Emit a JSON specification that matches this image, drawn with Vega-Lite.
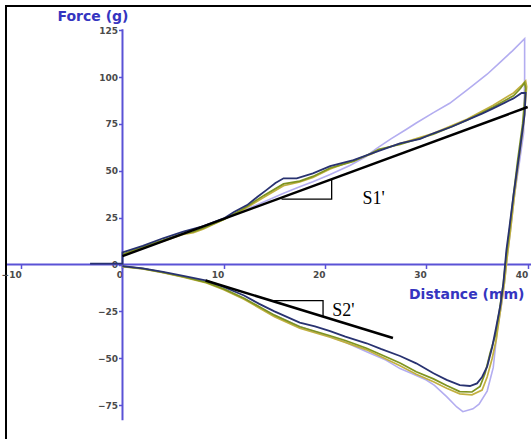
{
  "$schema": "https://vega.github.io/schema/vega-lite/v6.json",
  "autosize": {"type": "none"},
  "width": 540,
  "height": 440,
  "padding": {"left": 6, "top": 6, "right": 0, "bottom": 0},
  "background": "white",
  "config": {
    "view": {"stroke": "black", "strokeWidth": 2},
    "axis": {
      "grid": false,
      "domain": false,
      "tickColor": "#5a52d6",
      "tickWidth": 1.5,
      "tickSize": 4,
      "labelFont": "DejaVu Sans",
      "labelFontWeight": "bold",
      "labelFontSize": 9,
      "labelColor": "#4a4a4a",
      "titleFont": "DejaVu Sans",
      "titleFontWeight": "bold",
      "titleFontSize": 14,
      "titleColor": "#3535c0"
    }
  },
  "datasets": {
    "axes": [
      {"x": 0, "y": -83, "x2": 0, "y2": 125.5},
      {"x": -11.4, "y": 0, "x2": 41.8, "y2": 0}
    ],
    "lav": [
      {"i":1,"x":0,"y":5},{"i":2,"x":2,"y":8.5},{"i":3,"x":4,"y":12.5},{"i":4,"x":6,"y":16.5},{"i":5,"x":8,"y":20.5},{"i":6,"x":10,"y":24.5},{"i":7,"x":12,"y":29},{"i":8,"x":14,"y":33.5},{"i":9,"x":15.9,"y":38},{"i":10,"x":17.5,"y":41.5},{"i":11,"x":18.8,"y":44.2},{"i":12,"x":20.5,"y":48},{"i":13,"x":22.5,"y":53},{"i":14,"x":24,"y":57.5},{"i":15,"x":25.1,"y":62},{"i":16,"x":26.5,"y":67},{"i":17,"x":28,"y":72},{"i":18,"x":29,"y":75.5},{"i":19,"x":30.7,"y":81},{"i":20,"x":32.3,"y":86},{"i":21,"x":34,"y":93},{"i":22,"x":34.6,"y":95.5},{"i":23,"x":36,"y":101.5},{"i":24,"x":37.3,"y":108},{"i":25,"x":38.5,"y":114},{"i":26,"x":39.7,"y":120.5},{"i":27,"x":39.7,"y":100},{"i":28,"x":39.6,"y":70},{"i":29,"x":39.2,"y":55},{"i":30,"x":38.7,"y":37},{"i":31,"x":38.3,"y":18},{"i":32,"x":38,"y":5},{"i":33,"x":37.7,"y":-10},{"i":34,"x":37.4,"y":-22},{"i":35,"x":37,"y":-35},{"i":36,"x":36.6,"y":-55},{"i":37,"x":36,"y":-67.5},{"i":38,"x":35.2,"y":-74.5},{"i":39,"x":34.6,"y":-77},{"i":40,"x":33.6,"y":-78.5},{"i":41,"x":33,"y":-76},{"i":42,"x":32,"y":-70.5},{"i":43,"x":30.8,"y":-64.5},{"i":44,"x":30,"y":-61.6},{"i":45,"x":28.5,"y":-58},{"i":46,"x":27.4,"y":-55.5},{"i":47,"x":26,"y":-51},{"i":48,"x":24.1,"y":-46.5},{"i":49,"x":22,"y":-41.5},{"i":50,"x":20.5,"y":-38.5},{"i":51,"x":17.5,"y":-33},{"i":52,"x":15,"y":-27},{"i":53,"x":12,"y":-18.3},{"i":54,"x":10,"y":-13.2},{"i":55,"x":8.3,"y":-9.5},{"i":56,"x":6,"y":-6.5},{"i":57,"x":4,"y":-4.2},{"i":58,"x":2,"y":-2.2},{"i":59,"x":0,"y":-1}
    ],
    "khaki": [
      {"i":1,"x":0,"y":5},{"i":2,"x":2,"y":9},{"i":3,"x":4,"y":12.5},{"i":4,"x":6,"y":16},{"i":5,"x":7,"y":17},{"i":6,"x":8,"y":19},{"i":7,"x":10,"y":24},{"i":8,"x":12,"y":29.5},{"i":9,"x":14,"y":36},{"i":10,"x":15.9,"y":42},{"i":11,"x":17.5,"y":44},{"i":12,"x":18.8,"y":46.5},{"i":13,"x":20.5,"y":51},{"i":14,"x":22.8,"y":55.5},{"i":15,"x":24.6,"y":59},{"i":16,"x":25.3,"y":61},{"i":17,"x":27.4,"y":64.5},{"i":18,"x":30.7,"y":70},{"i":19,"x":34,"y":77.5},{"i":20,"x":36.6,"y":85},{"i":21,"x":38.6,"y":91.5},{"i":22,"x":39.4,"y":95.5},{"i":23,"x":39.8,"y":98},{"i":24,"x":39.9,"y":95},{"i":25,"x":39.6,"y":75},{"i":26,"x":39.1,"y":55},{"i":27,"x":38.7,"y":37},{"i":28,"x":38.3,"y":18},{"i":29,"x":38,"y":5},{"i":30,"x":37.7,"y":-10},{"i":31,"x":37.3,"y":-25},{"i":32,"x":36.9,"y":-40},{"i":33,"x":36.5,"y":-50},{"i":34,"x":36,"y":-60},{"i":35,"x":35.5,"y":-67},{"i":36,"x":34.5,"y":-69.5},{"i":37,"x":33.3,"y":-69},{"i":38,"x":32,"y":-66},{"i":39,"x":30.7,"y":-62.5},{"i":40,"x":29,"y":-58.5},{"i":41,"x":27.4,"y":-54},{"i":42,"x":24.1,"y":-45.5},{"i":43,"x":22,"y":-41.5},{"i":44,"x":20.5,"y":-38.8},{"i":45,"x":17.5,"y":-34},{"i":46,"x":15,"y":-27.8},{"i":47,"x":12,"y":-18.5},{"i":48,"x":10,"y":-13.5},{"i":49,"x":8.3,"y":-9.8},{"i":50,"x":6,"y":-6.7},{"i":51,"x":4,"y":-4.3},{"i":52,"x":2,"y":-2.3},{"i":53,"x":0,"y":-1.1}
    ],
    "olive": [
      {"i":1,"x":0,"y":5.5},{"i":2,"x":2,"y":9.5},{"i":3,"x":4,"y":13},{"i":4,"x":6,"y":16.5},{"i":5,"x":7,"y":17.5},{"i":6,"x":8,"y":19.5},{"i":7,"x":10,"y":24},{"i":8,"x":12,"y":30},{"i":9,"x":14,"y":37},{"i":10,"x":15.9,"y":43},{"i":11,"x":17.5,"y":44.5},{"i":12,"x":18.8,"y":47},{"i":13,"x":20.5,"y":51.5},{"i":14,"x":22.8,"y":55},{"i":15,"x":24.6,"y":59.5},{"i":16,"x":25.3,"y":61.5},{"i":17,"x":27.4,"y":64},{"i":18,"x":30.7,"y":69.5},{"i":19,"x":34,"y":77},{"i":20,"x":36.6,"y":84},{"i":21,"x":38.6,"y":90},{"i":22,"x":39.3,"y":94},{"i":23,"x":39.7,"y":97},{"i":24,"x":39.8,"y":94},{"i":25,"x":39.5,"y":75},{"i":26,"x":39,"y":55},{"i":27,"x":38.6,"y":37},{"i":28,"x":38.2,"y":18},{"i":29,"x":37.9,"y":5},{"i":30,"x":37.6,"y":-10},{"i":31,"x":37.2,"y":-25},{"i":32,"x":36.8,"y":-38},{"i":33,"x":36.3,"y":-47},{"i":34,"x":35.8,"y":-58},{"i":35,"x":35.3,"y":-65},{"i":36,"x":34.5,"y":-68},{"i":37,"x":33.3,"y":-67.8},{"i":38,"x":32,"y":-64.5},{"i":39,"x":30.7,"y":-61},{"i":40,"x":29,"y":-57.2},{"i":41,"x":27.4,"y":-52.5},{"i":42,"x":24.1,"y":-44.7},{"i":43,"x":22,"y":-40.5},{"i":44,"x":20.5,"y":-38},{"i":45,"x":17.5,"y":-33.2},{"i":46,"x":15,"y":-27},{"i":47,"x":12,"y":-18},{"i":48,"x":10,"y":-13},{"i":49,"x":8.3,"y":-9.5},{"i":50,"x":6,"y":-6.5},{"i":51,"x":4,"y":-4.2},{"i":52,"x":2,"y":-2.2},{"i":53,"x":0,"y":-1}
    ],
    "navy": [
      {"i":1,"x":-3.2,"y":0.5},{"i":2,"x":0,"y":0.5},{"i":3,"x":0,"y":6.5},{"i":4,"x":2,"y":10},{"i":5,"x":4,"y":14},{"i":6,"x":6,"y":17.5},{"i":7,"x":8,"y":20.5},{"i":8,"x":10,"y":24.6},{"i":9,"x":11,"y":28},{"i":10,"x":12.3,"y":31.7},{"i":11,"x":13.3,"y":36},{"i":12,"x":14.2,"y":39.7},{"i":13,"x":15.1,"y":43.5},{"i":14,"x":15.9,"y":46},{"i":15,"x":17.2,"y":46},{"i":16,"x":18.8,"y":48.6},{"i":17,"x":20.5,"y":52.5},{"i":18,"x":22.8,"y":55.7},{"i":19,"x":25.1,"y":60.2},{"i":20,"x":27.4,"y":64.6},{"i":21,"x":29.4,"y":67},{"i":22,"x":30.7,"y":70},{"i":23,"x":32.5,"y":73.5},{"i":24,"x":34,"y":77},{"i":25,"x":35.5,"y":80.5},{"i":26,"x":36.6,"y":83.3},{"i":27,"x":37.8,"y":86.5},{"i":28,"x":38.6,"y":88.6},{"i":29,"x":39.4,"y":91.5},{"i":30,"x":39.8,"y":91.5},{"i":31,"x":39.7,"y":80},{"i":32,"x":39.2,"y":60},{"i":33,"x":38.6,"y":37},{"i":34,"x":38.2,"y":20},{"i":35,"x":37.9,"y":7.7},{"i":36,"x":37.6,"y":-10},{"i":37,"x":37.3,"y":-22},{"i":38,"x":36.9,"y":-33.2},{"i":39,"x":36.5,"y":-44},{"i":40,"x":36,"y":-54.5},{"i":41,"x":35.5,"y":-60},{"i":42,"x":35,"y":-63.4},{"i":43,"x":34.3,"y":-64.8},{"i":44,"x":33.3,"y":-64.3},{"i":45,"x":32,"y":-61.5},{"i":46,"x":30.7,"y":-58},{"i":47,"x":29,"y":-52.7},{"i":48,"x":27.4,"y":-48.8},{"i":49,"x":25.5,"y":-45},{"i":50,"x":24.1,"y":-42},{"i":51,"x":22,"y":-38.5},{"i":52,"x":20.5,"y":-35.5},{"i":53,"x":19,"y":-33},{"i":54,"x":17.5,"y":-31},{"i":55,"x":15,"y":-25},{"i":56,"x":13.5,"y":-21},{"i":57,"x":12,"y":-16.5},{"i":58,"x":10,"y":-12},{"i":59,"x":8.3,"y":-8.6},{"i":60,"x":6,"y":-6},{"i":61,"x":4,"y":-3.9},{"i":62,"x":2,"y":-2},{"i":63,"x":0,"y":-0.8}
    ],
    "slopes": [
      {"seg":"S1","i":0,"x":0,"y":4.5},{"seg":"S1","i":1,"x":40,"y":84},
      {"seg":"S2","i":0,"x":8.2,"y":-8.5},{"seg":"S2","i":1,"x":26.7,"y":-39.2}
    ],
    "triangles": [
      {"seg":"T1","i":0,"x":15.7,"y":34.9},{"seg":"T1","i":1,"x":20.65,"y":34.9},{"seg":"T1","i":2,"x":20.65,"y":45.5},
      {"seg":"T2","i":0,"x":14.7,"y":-19.3},{"seg":"T2","i":1,"x":19.8,"y":-19.3},{"seg":"T2","i":2,"x":19.8,"y":-27.8}
    ],
    "labels": [
      {"text":"S1'","x":23.7,"y":32.3},
      {"text":"S2'","x":20.7,"y":-27.5}
    ]
  },
  "layer": [
    {
      "data": {"name": "axes"},
      "mark": {"type": "rule", "color": "#5a52d6", "strokeWidth": 2},
      "encoding": {
        "x": {"field": "x", "type": "quantitative", "scale": {"domain": [-11.5, 41.81], "nice": false, "zero": false},
          "axis": {"orient": "bottom", "offset": -181.5, "values": [-10, 0, 10, 20, 30, 40], "labelAlign": "right", "labelPadding": 2,
            "title": "Distance (mm)", "titleX": 518, "titleY": 33.5, "titleAlign": "right", "titleBaseline": "alphabetic", "titleAngle": 0}},
        "y": {"field": "y", "type": "quantitative", "scale": {"domain": [-96.8, 137.9], "nice": false, "zero": false},
          "axis": {"orient": "left", "offset": -116.5, "values": [-75, -50, -25, 0, 25, 50, 75, 100, 125], "labelPadding": 1,
            "title": "Force (g)", "titleX": -30, "titleY": 14, "titleAlign": "center", "titleBaseline": "alphabetic", "titleAngle": 0}},
        "x2": {"field": "x2"},
        "y2": {"field": "y2"}
      }
    },
    {
      "data": {"name": "lav"},
      "mark": {"type": "line", "color": "#b3adf0", "strokeWidth": 1.6},
      "encoding": {"x": {"field": "x", "type": "quantitative"}, "y": {"field": "y", "type": "quantitative"}, "order": {"field": "i"}}
    },
    {
      "data": {"name": "khaki"},
      "mark": {"type": "line", "color": "#c2b040", "strokeWidth": 1.7},
      "encoding": {"x": {"field": "x", "type": "quantitative"}, "y": {"field": "y", "type": "quantitative"}, "order": {"field": "i"}}
    },
    {
      "data": {"name": "olive"},
      "mark": {"type": "line", "color": "#7f9420", "strokeWidth": 1.7},
      "encoding": {"x": {"field": "x", "type": "quantitative"}, "y": {"field": "y", "type": "quantitative"}, "order": {"field": "i"}}
    },
    {
      "data": {"name": "navy"},
      "mark": {"type": "line", "color": "#283270", "strokeWidth": 1.8},
      "encoding": {"x": {"field": "x", "type": "quantitative"}, "y": {"field": "y", "type": "quantitative"}, "order": {"field": "i"}}
    },
    {
      "data": {"name": "slopes"},
      "mark": {"type": "line", "color": "black", "strokeWidth": 2.5},
      "encoding": {"x": {"field": "x", "type": "quantitative"}, "y": {"field": "y", "type": "quantitative"}, "detail": {"field": "seg"}, "order": {"field": "i"}}
    },
    {
      "data": {"name": "triangles"},
      "mark": {"type": "line", "color": "black", "strokeWidth": 1.3},
      "encoding": {"x": {"field": "x", "type": "quantitative"}, "y": {"field": "y", "type": "quantitative"}, "detail": {"field": "seg"}, "order": {"field": "i"}}
    },
    {
      "data": {"name": "labels"},
      "mark": {"type": "text", "font": "Liberation Serif", "fontSize": 18, "align": "left", "baseline": "alphabetic", "color": "black"},
      "encoding": {"x": {"field": "x", "type": "quantitative"}, "y": {"field": "y", "type": "quantitative"}, "text": {"field": "text"}}
    }
  ]
}
